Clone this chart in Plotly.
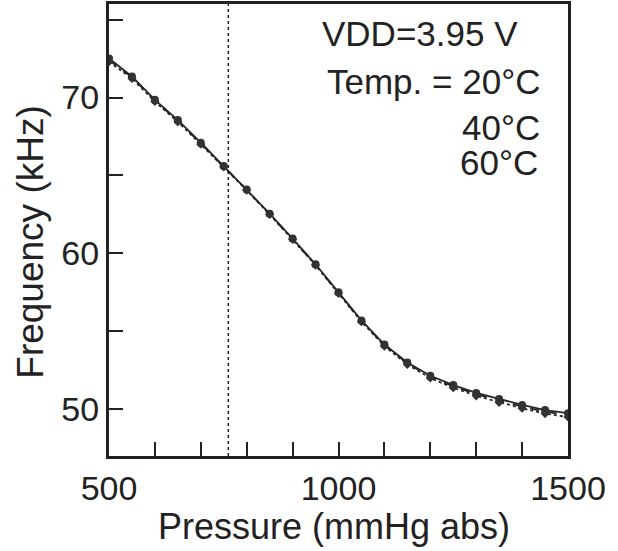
import plotly.graph_objects as go

# ---- data ----
pressure = [500, 550, 600, 650, 700, 750, 800, 850, 900, 950, 1000,
            1050, 1100, 1150, 1200, 1250, 1300, 1350, 1400, 1450, 1500]
freq_20 = [72.50, 71.35, 69.85, 68.55, 67.10, 65.60, 64.10, 62.55, 60.95, 59.30, 57.50,
           55.70, 54.15, 53.00, 52.15, 51.55, 51.05, 50.65, 50.28, 49.95, 49.75]
freq_40 = [72.40, 71.30, 69.80, 68.50, 67.05, 65.58, 64.08, 62.52, 60.92, 59.27, 57.47,
           55.66, 54.10, 52.95, 52.08, 51.47, 50.96, 50.55, 50.17, 49.84, 49.62]
freq_60 = [72.30, 71.22, 69.74, 68.44, 67.00, 65.55, 64.05, 62.50, 60.90, 59.24, 57.43,
           55.62, 54.05, 52.88, 52.00, 51.38, 50.86, 50.44, 50.06, 49.72, 49.50]
atm_pressure = 760
x_ticks = [500, 600, 700, 800, 900, 1000, 1100, 1200, 1300, 1400, 1500]
x_labels = ["500", "", "", "", "", "1000", "", "", "", "", "1500"]
y_ticks = [50, 55, 60, 65, 70, 75]
y_labels = ["50", "", "60", "", "70", ""]

FONT = "Liberation Sans"
INK = "#222222"

fig = go.Figure()
series = [
    ("20°C", freq_20, "solid", "circle", 8),
    ("40°C", freq_40, "dash", "square", 6),
    ("60°C", freq_60, "dot", "diamond", 7),
]
for name, vals, dash, sym, size in series:
    fig.add_trace(go.Scatter(
        x=pressure, y=vals, mode="lines+markers", name=name,
        line=dict(color="#262626", width=1.8, dash=dash),
        marker=dict(symbol=sym, size=size, color="#333333"),
        showlegend=False, cliponaxis=True,
    ))

fig.add_vline(x=atm_pressure, line=dict(color=INK, width=1.5, dash="dot"))

ann_font = dict(family=FONT, size=35, color=INK)
fig.add_annotation(x=960, y=74.1, text="VDD=3.95 V", showarrow=False,
                   xanchor="left", yanchor="middle", font=ann_font)
fig.add_annotation(x=1443, y=71.0, text="Temp. = 20°C", showarrow=False,
                   xanchor="right", yanchor="middle", font=ann_font)
fig.add_annotation(x=1443, y=68.1, text="40°C", showarrow=False,
                   xanchor="right", yanchor="middle", font=ann_font)
fig.add_annotation(x=1440, y=65.8, text="60°C", showarrow=False,
                   xanchor="right", yanchor="middle", font=ann_font)

# axis titles placed as paper annotations
fig.add_annotation(xref="paper", yref="paper", x=0.49, y=-0.155,
                   text="Pressure (mmHg abs)", showarrow=False,
                   xanchor="center", yanchor="middle",
                   font=dict(family=FONT, size=36, color=INK))
fig.add_annotation(xref="paper", yref="paper", x=-0.171, y=0.473,
                   text="Frequency (kHz)", showarrow=False, textangle=-90,
                   xanchor="center", yanchor="middle",
                   font=dict(family=FONT, size=37, color=INK))

fig.update_layout(
    width=618, height=551,
    margin=dict(l=109, r=50, t=4, b=95, autoexpand=False),
    paper_bgcolor="white", plot_bgcolor="white",
    font=dict(family=FONT, color=INK),
)
fig.update_xaxes(
    range=[500, 1500], showgrid=False, zeroline=False, automargin=False,
    showline=True, linecolor=INK, linewidth=3, mirror=True,
    ticks="inside", ticklen=14, tickwidth=2, tickcolor=INK,
    tickvals=x_ticks, ticktext=x_labels,
    tickfont=dict(family=FONT, size=34, color=INK),
)
fig.update_yaxes(
    range=[47, 76], showgrid=False, zeroline=False, automargin=False,
    showline=True, linecolor=INK, linewidth=3, mirror=True,
    ticks="inside", ticklen=14, tickwidth=2, tickcolor=INK,
    tickvals=y_ticks, ticktext=y_labels,
    tickfont=dict(family=FONT, size=34, color=INK),
)

fig.write_html("out.html", config={"displayModeBar": False},
               post_script="document.body.style.margin='0';")
